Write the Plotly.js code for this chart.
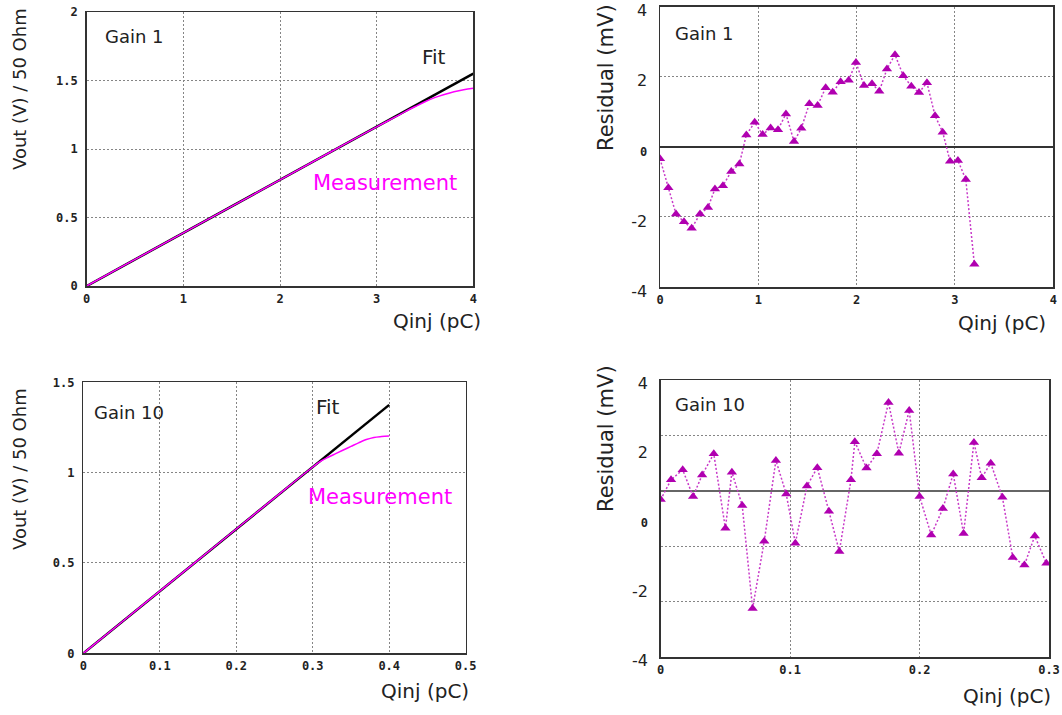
<!DOCTYPE html>
<html><head><meta charset="utf-8">
<script src="https://cdn.plot.ly/plotly-3.0.1.min.js"></script>
<style>html,body{margin:0;padding:0;background:#fff}#chart{width:1062px;height:715px}</style>
</head><body><div id="chart"></div>
<script>
// ---------- Data ----------
// Gain 1 : Vout vs Qinj
const gain1FitQ = [0, 4];
const gain1FitV = [0, 1.55];
const gain1MeasQ = [0, 0.5, 1, 1.5, 2, 2.5, 3, 3.2, 3.3, 3.4, 3.5, 3.6, 3.7, 3.8, 3.9, 4.0];
const gain1MeasV = [0, 0.194, 0.388, 0.581, 0.775, 0.969, 1.162, 1.236, 1.274, 1.31, 1.345, 1.375, 1.398, 1.418, 1.433, 1.443];

// Gain 1 : residuals (mV)
const gain1ResQ = [0, 0.085, 0.163, 0.244, 0.322, 0.407, 0.488, 0.559, 0.64, 0.725, 0.807, 0.878, 0.963, 1.044, 1.125, 1.2, 1.281, 1.363, 1.437, 1.519, 1.603, 1.685, 1.756, 1.837, 1.919, 1.993, 2.075, 2.156, 2.23, 2.308, 2.39, 2.474, 2.556, 2.634, 2.715, 2.797, 2.875, 2.95, 3.03, 3.11, 3.197];
const gain1ResMV = [-0.34, -1.17, -1.92, -2.14, -2.32, -1.92, -1.73, -1.2, -1.11, -0.7, -0.49, 0.34, 0.7, 0.35, 0.54, 0.49, 0.94, 0.15, 0.53, 1.23, 1.18, 1.69, 1.56, 1.86, 1.9, 2.41, 1.75, 1.8, 1.59, 2.22, 2.63, 2.03, 1.73, 1.55, 1.83, 0.89, 0.42, -0.41, -0.39, -0.93, -3.35];

// Gain 10 : Vout vs Qinj
const gain10FitQ = [0, 0.4];
const gain10FitV = [0, 1.375];
const gain10MeasQ = [0, 0.05, 0.1, 0.15, 0.2, 0.25, 0.3, 0.31, 0.32, 0.33, 0.34, 0.35, 0.36, 0.37, 0.38, 0.39, 0.4];
const gain10MeasV = [0, 0.172, 0.344, 0.516, 0.688, 0.86, 1.031, 1.062, 1.085, 1.105, 1.125, 1.145, 1.165, 1.183, 1.195, 1.2, 1.203];

// Gain 10 : residuals (mV)
const gain10ResQ = [0, 0.008, 0.017, 0.025, 0.032, 0.041, 0.050, 0.055, 0.063, 0.071, 0.080, 0.089, 0.097, 0.104, 0.113, 0.121, 0.130, 0.138, 0.147, 0.150, 0.159, 0.167, 0.176, 0.184, 0.192, 0.200, 0.209, 0.218, 0.226, 0.234, 0.242, 0.248, 0.255, 0.264, 0.272, 0.281, 0.289, 0.298];
const gain10ResMV = [0.55, 1.12, 1.41, 0.64, 1.26, 1.87, -0.28, 1.34, 0.38, -2.59, -0.65, 1.68, 0.71, -0.71, 0.94, 1.47, 0.21, -0.95, 1.12, 2.22, 1.46, 1.87, 3.35, 1.89, 3.12, 0.64, -0.47, 0.29, 1.29, -0.43, 2.2, 1.18, 1.6, 0.62, -1.12, -1.34, -0.5, -1.29];
const gain10ResBaseline = 0.8;

// Tick labels
const vTicks1 = [0, 0.5, 1, 1.5, 2];
const vTicks10 = [0, 0.5, 1, 1.5];
const qTicks1 = [0, 1, 2, 3, 4];
const qTicks10 = [0, 0.1, 0.2, 0.3, 0.4, 0.5];
const qTicksRes10 = [0, 0.1, 0.2, 0.3];
const resTicks = [-4, -2, 0, 2, 4];
const resTickText = ['-4', '-2', '<span style="font-family:DejaVu Sans Mono;font-weight:bold;font-size:12px">0</span>', '2', '4'];
const resGrid10 = [-2.4, -0.8, 2.4];

// ---------- Layout helpers ----------
const W = 1062, H = 715;
const px = x => x / W;
const py = y => 1 - y / H;

const MAG = '#ff00ff';
const RESCOL = '#b000b0';
const TXT = '#222';
const monoFont = {family: 'DejaVu Sans Mono', size: 12, weight: 'bold', color: TXT};
const sansTick = {family: 'DejaVu Sans', size: 16, color: TXT};

function ax(extra) {
  return Object.assign({
    showgrid: true, gridcolor: '#858585', griddash: '2px,2px', gridwidth: 1,
    showline: true, mirror: true, linecolor: '#333', linewidth: 1.5,
    ticks: '', zeroline: false, fixedrange: true, tickfont: monoFont,
    ticklabeloverflow: 'allow'
  }, extra);
}

const resLine = {color: '#c83ac8', width: 1.5, dash: '2px,2px'};
const resMarker = {symbol: 'triangle-up', size: 9, color: RESCOL};

const traces = [
  {x: gain1FitQ, y: gain1FitV, xaxis: 'x', yaxis: 'y', mode: 'lines', line: {color: '#000', width: 2.5}},
  {x: gain1MeasQ, y: gain1MeasV, xaxis: 'x', yaxis: 'y', mode: 'lines', line: {color: MAG, width: 1.5, shape: 'spline'}},
  {x: gain1ResQ, y: gain1ResMV, xaxis: 'x2', yaxis: 'y2', mode: 'lines+markers', line: resLine, marker: resMarker},
  {x: gain10FitQ, y: gain10FitV, xaxis: 'x3', yaxis: 'y3', mode: 'lines', line: {color: '#000', width: 2.5}},
  {x: gain10MeasQ, y: gain10MeasV, xaxis: 'x3', yaxis: 'y3', mode: 'lines', line: {color: MAG, width: 1.5, shape: 'spline'}},
  {x: gain10ResQ, y: gain10ResMV, xaxis: 'x4', yaxis: 'y4', mode: 'lines+markers', line: resLine, marker: resMarker}
];

const textFont = (size, color) => ({family: 'DejaVu Sans', size: size, color: color || TXT});
function ann(text, x, y, size, color, angle) {
  return {text: text, x: px(x), y: py(y), xref: 'paper', yref: 'paper', showarrow: false,
          xanchor: 'center', yanchor: 'middle', font: textFont(size, color), textangle: angle || 0};
}

const layout = {
  width: W, height: H, margin: {l: 0, r: 0, t: 0, b: 0, pad: 0},
  paper_bgcolor: '#fff', plot_bgcolor: '#fff', showlegend: false,
  xaxis: ax({domain: [px(86.7), px(473.3)], anchor: 'y', range: [0, 4], tickvals: qTicks1, ticklabelstandoff: 1}),
  yaxis: ax({domain: [py(286), py(12)], anchor: 'x', range: [0, 2], tickvals: vTicks1, ticklabelstandoff: 5}),
  xaxis2: ax({domain: [px(660), px(1053.3)], anchor: 'y2', range: [0, 4], tickvals: qTicks1, ticklabelstandoff: 1}),
  yaxis2: ax({domain: [py(287), py(6.7)], anchor: 'x2', range: [-4, 4], tickvals: resTicks, ticktext: resTickText, tickfont: sansTick,
              zeroline: true, zerolinecolor: '#333', zerolinewidth: 1.5, ticklabelstandoff: 8, ticklabelshift: 4}),
  xaxis3: ax({domain: [px(83.3), px(465.7)], anchor: 'y3', range: [0, 0.5], tickvals: qTicks10, ticklabelstandoff: 1}),
  yaxis3: ax({domain: [py(653.3), py(382.3)], anchor: 'x3', range: [0, 1.5], tickvals: vTicks10, ticklabelstandoff: 5}),
  xaxis4: ax({domain: [px(660.7), px(1049)], anchor: 'y4', range: [0, 0.3], tickvals: qTicksRes10, ticklabelstandoff: 1}),
  yaxis4: ax({domain: [py(657.3), py(380)], anchor: 'x4', range: [-4, 4], tickvals: resTicks, ticktext: resTickText, tickfont: sansTick,
              showgrid: false, ticklabelstandoff: 8, ticklabelshift: 3,
              minor: {tickmode: 'array', tickvals: resGrid10, showgrid: true, gridcolor: '#858585', griddash: '2px,2px', gridwidth: 1, ticks: ''}}),
  shapes: [
    {type: 'line', xref: 'x4 domain', yref: 'y4', x0: 0, x1: 1, y0: gain10ResBaseline, y1: gain10ResBaseline,
     line: {color: '#333', width: 1.5}, layer: 'below'}
  ],
  annotations: [
    ann('Vout (V) / 50 Ohm', 20, 89, 18, TXT, -90),
    ann('Qinj (pC)', 437, 321, 20),
    ann('Gain 1', 134, 37, 18),
    ann('Fit', 434, 57, 20),
    ann('Measurement', 385, 183, 21, MAG),
    ann('Residual (mV)', 606, 78, 21, TXT, -90),
    ann('Qinj (pC)', 1002, 323, 20),
    ann('Gain 1', 704, 33, 18),
    ann('Vout (V) / 50 Ohm', 19, 469, 18, TXT, -90),
    ann('Qinj (pC)', 425, 691, 20),
    ann('Gain 10', 129, 412, 18),
    ann('Fit', 328, 407, 20),
    ann('Measurement', 380, 497, 21, MAG),
    ann('Residual (mV)', 606, 439, 21, TXT, -90),
    ann('Qinj (pC)', 1007, 696, 20),
    ann('Gain 10', 710, 404, 18)
  ]
};

Plotly.newPlot('chart', traces, layout, {displayModeBar: false, staticPlot: true});
</script>
</body></html>
